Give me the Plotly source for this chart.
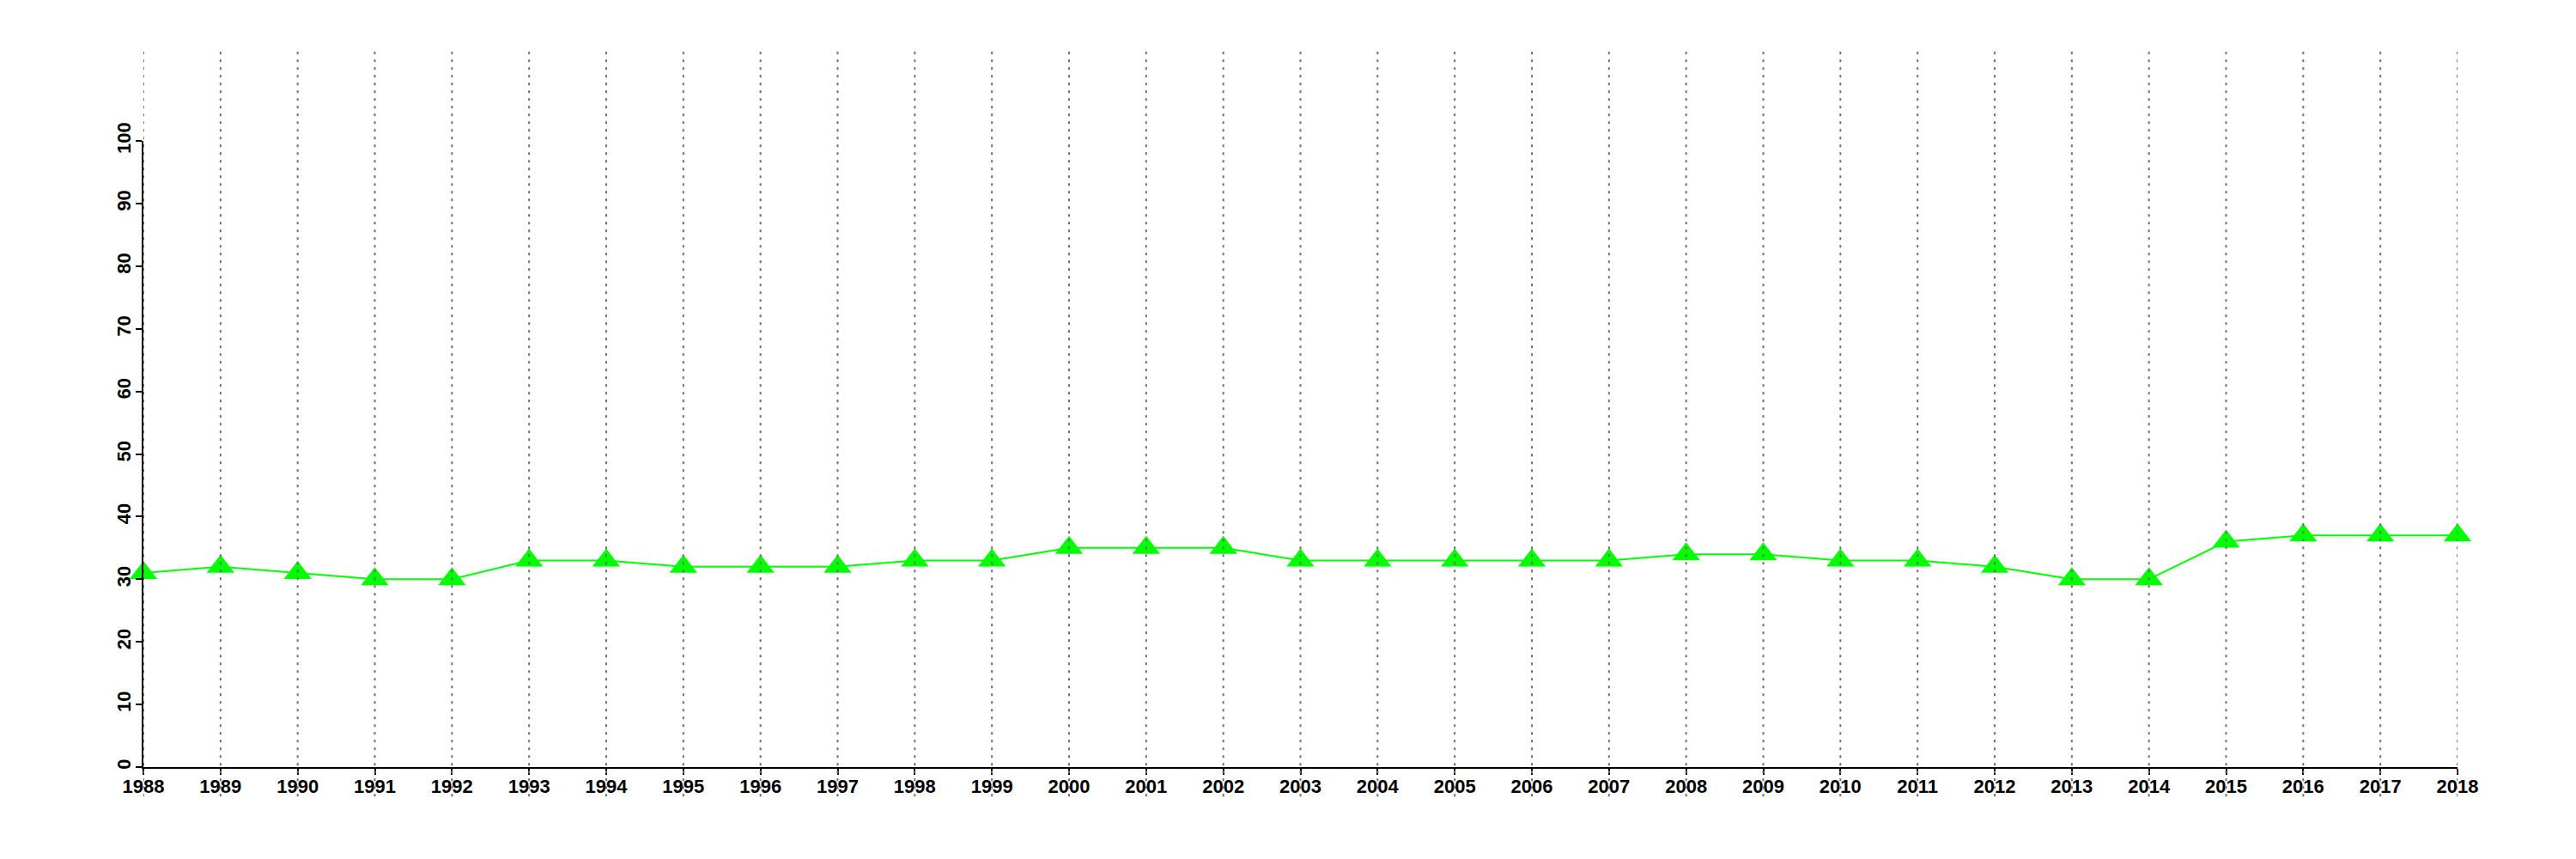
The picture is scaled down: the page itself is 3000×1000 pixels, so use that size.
import plotly.graph_objects as go

years = list(range(1988, 2019))
values = [31, 32, 31, 30, 30, 33, 33, 32, 32, 32, 33, 33, 35, 35, 35, 33,
          33, 33, 33, 33, 34, 34, 33, 33, 32, 30, 30, 36, 37, 37, 37]
y_ticks = [0, 10, 20, 30, 40, 50, 60, 70, 80, 90, 100]

fig = go.Figure()
fig.add_trace(go.Scatter(
    x=years, y=values, mode="lines+markers",
    line=dict(color="#00FF00", width=2),
    marker=dict(symbol="triangle-up", size=28, color="#00FF00"),
    cliponaxis=False, showlegend=False,
))

shapes = []
for yr in years:
    shapes.append(dict(type="line", xref="x", yref="paper", x0=yr, x1=yr,
                       y0=-0.047, y1=1.143, layer="above",
                       line=dict(color="#6e6e6e", width=2, dash="3px,6px")))

tick_font = dict(family="Liberation Sans, Arial, sans-serif", size=22,
                 color="black", weight="bold")

fig.update_layout(
    width=3000, height=1000,
    margin=dict(l=159, r=146, t=156, b=115),
    paper_bgcolor="white", plot_bgcolor="white",
    shapes=shapes,
    xaxis=dict(range=[1988, 2018], tickmode="array", tickvals=years,
               ticktext=[str(y) for y in years], showgrid=False, zeroline=False,
               showline=True, linecolor="black", linewidth=2,
               ticks="outside", ticklen=7, tickwidth=2, tickcolor="black",
               ticklabelstandoff=-5, tickfont=tick_font),
    yaxis=dict(range=[0, 100], tickmode="array", tickvals=y_ticks,
               ticktext=[str(v) for v in y_ticks], showgrid=False, zeroline=False,
               showline=True, linecolor="black", linewidth=2,
               ticks="outside", ticklen=7, tickwidth=2, tickcolor="black",
               ticklabelstandoff=-3, tickangle=-90, tickfont=tick_font),
)

fig.write_html("out.html")
